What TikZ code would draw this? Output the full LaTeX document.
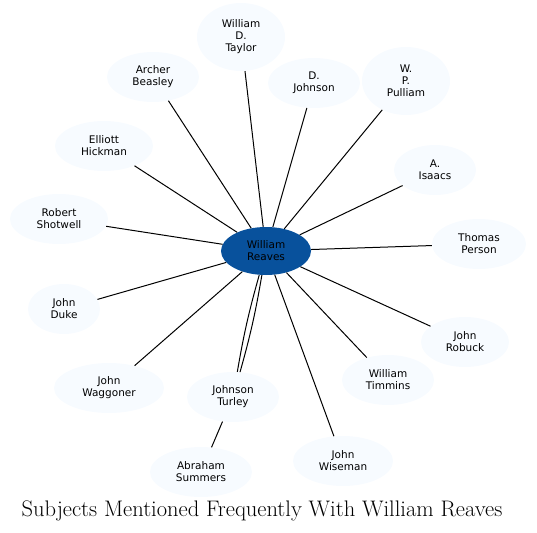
\documentclass[tikz,border=0pt]{standalone}
\usepackage{fontspec}
\setsansfont{DejaVu Sans}
\usetikzlibrary{shapes.geometric}
\definecolor{hubblue}{HTML}{08519C}
\definecolor{leafblue}{HTML}{F7FBFF}
\tikzset{
    leaf/.style={ellipse, fill=leafblue, inner sep=0pt, align=center,
        font=\sffamily\fontsize{10.5}{12}\selectfont, minimum height=50pt},
    hub/.style={leaf, fill=hubblue, minimum width=90pt, minimum height=48pt},
    link/.style={draw=black, line width=1pt}
}
\begin{document}
\begin{tikzpicture}[x=1pt, y=-1pt]
    \useasboundingbox (0,0) rectangle (537,532);
    % centre
    \node[hub] (reaves) at (266,251) {William\\Reaves};
    % subjects
    \node[leaf, minimum width=88pt, minimum height=68pt] (taylor) at (241,37) {William\\D.\\Taylor};
    \node[leaf, minimum width=92pt] (beasley) at (153,77) {Archer\\Beasley};
    \node[leaf, minimum width=92pt] (djohnson) at (314,83) {D.\\Johnson};
    \node[leaf, minimum width=88pt, minimum height=68pt] (pulliam) at (406,81) {W.\\P.\\Pulliam};
    \node[leaf, minimum width=82pt] (isaacs) at (435,170) {A.\\Isaacs};
    \node[leaf, minimum width=98pt] (hickman) at (104,146) {Elliott\\Hickman};
    \node[leaf, minimum width=94pt] (person) at (479,244) {Thomas\\Person};
    \node[leaf, minimum width=98pt] (shotwell) at (59,219) {Robert\\Shotwell};
    \node[leaf, minimum width=72pt] (duke) at (64,309) {John\\Duke};
    \node[leaf, minimum width=88pt] (robuck) at (465,342) {John\\Robuck};
    \node[leaf, minimum width=92pt] (timmins) at (388,380) {William\\Timmins};
    \node[leaf, minimum width=110pt] (waggoner) at (109,388) {John\\Waggoner};
    \node[leaf, minimum width=92pt] (turley) at (233,397) {Johnson\\Turley};
    \node[leaf, minimum width=102pt] (summers) at (201,472) {Abraham\\Summers};
    \node[leaf, minimum width=100pt] (wiseman) at (343,461) {John\\Wiseman};
    % connectors
    \foreach \n in {taylor, beasley, djohnson, pulliam, isaacs, hickman, person,
        shotwell, duke, robuck, timmins, waggoner, wiseman}
        \draw[link] (reaves) -- (\n);
    \draw[link] (reaves) to[bend right=3] (turley);
    \draw[link] (reaves) to[bend left=3] (turley);
    \draw[link] (turley) -- (summers);
    % title
    \node[font=\fontsize{22.5}{26}\selectfont] (title) at (262,511) {Subjects Mentioned Frequently With William Reaves};
\end{tikzpicture}
\end{document}
